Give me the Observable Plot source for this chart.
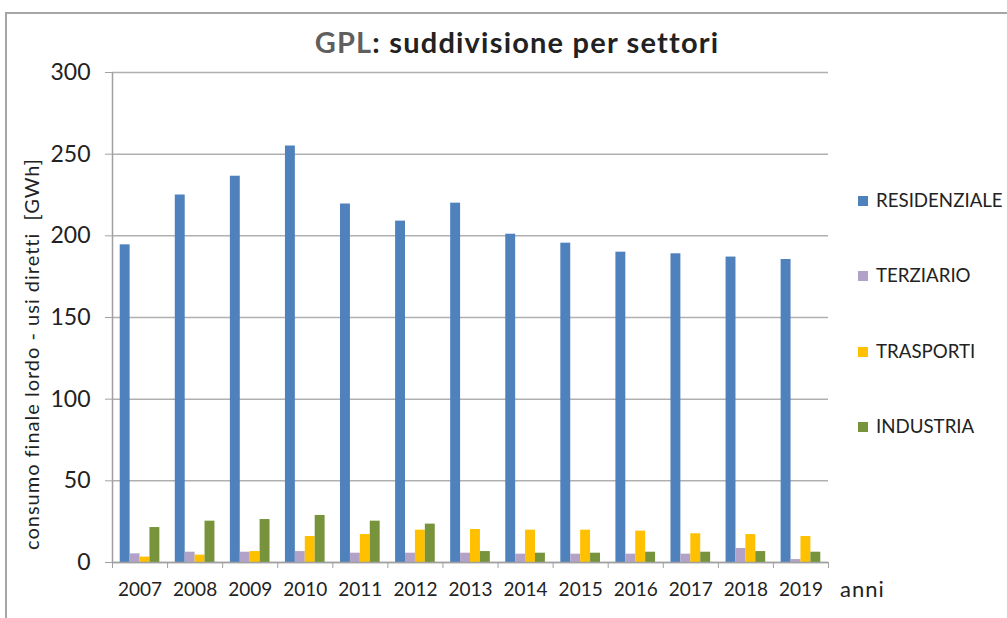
<!DOCTYPE html>
<html>
<head>
<meta charset="utf-8">
<script src="https://cdn.jsdelivr.net/npm/d3@7"></script>
<script src="https://cdn.jsdelivr.net/npm/@observablehq/plot@0.6"></script>
<style>
  html, body { margin: 0; padding: 0; background: #fff; }
  #wrap { position: relative; width: 1007px; height: 618px; overflow: hidden; font-family: Lato, "Open Sans", sans-serif; }
  #border { position: absolute; left: 5px; top: 12px; width: 1100px; height: 700px; border-top: 2px solid #a6a6a6; border-left: 2px solid #a6a6a6; }
  #title { position: absolute; left: 0; width: 1034px; top: 24px; text-align: center; font-size: 29px; letter-spacing: 1.2px; font-weight: bold; color: #222; }
  #title .gpl { color: #5f5f5f; }
  #ylabel { position: absolute; left: 31px; top: 354px; transform: translate(-50%, -50%) rotate(-90deg); white-space: pre; font-size: 20px; letter-spacing: 1px; color: #222; }
  #chart { position: absolute; left: 0; top: 40px; }
  #legend { position: absolute; left: 858px; top: 0; }
  .li { position: absolute; left: 0; white-space: nowrap; font-size: 18.7px; color: #222; transform: translateY(-50%); }
  .li span.sw { display: inline-block; width: 10px; height: 10px; margin-right: 8px; vertical-align: 1px; }
  #anni { position: absolute; left: 840px; top: 575px; font-size: 22px; letter-spacing: 1px; color: #222; }
</style>
</head>
<body>
<div id="wrap">
  <div id="border"></div>
  <div id="title"><span class="gpl">GPL</span>: suddivisione per settori</div>
  <div id="ylabel">consumo finale lordo - usi diretti  [GWh]</div>
  <div id="chart"></div>
  <div id="legend"></div>
  <div id="anni">anni</div>
</div>
<script>
const years = ["2007","2008","2009","2010","2011","2012","2013","2014","2015","2016","2017","2018","2019"];
const seriesNames = ["RESIDENZIALE", "TERZIARIO", "TRASPORTI", "INDUSTRIA"];
const seriesColors = ["#4f81bd", "#b3a2c7", "#ffc000", "#77933c"];
const residenziale = [194.5, 225, 236.5, 255, 219.5, 209, 220, 201, 195.5, 190, 189, 187, 185.5];
const terziario    = [5.3, 6.3, 6.3, 6.7, 5.7, 5.7, 5.7, 5.1, 5.1, 5.1, 5.1, 8.6, 1.8];
const trasporti    = [3.3, 4.5, 6.7, 15.9, 17.1, 19.8, 20.2, 19.8, 19.8, 19.2, 17.6, 17.1, 15.9];
const industria    = [21.4, 25.3, 26.3, 28.8, 25.3, 23.5, 6.7, 5.7, 5.7, 6.3, 6.3, 6.7, 6.3];
const yTicks = [0, 50, 100, 150, 200, 250, 300];

const seriesValues = [residenziale, terziario, trasporti, industria];
// grouped-bar layout within each year band (fractions of the band)
const groupOffset = 0.14, barWidth = 0.18;
const rows = [];
years.forEach((yr, i) => {
  seriesNames.forEach((s, j) => {
    rows.push({year: yr, series: s, value: seriesValues[j][i],
      x1: i + groupOffset + j * barWidth, x2: i + groupOffset + (j + 1) * barWidth});
  });
});

const chart = Plot.plot({
  width: 1007,
  height: 578,
  marginLeft: 112,
  marginRight: 179,
  marginTop: 32,
  marginBottom: 56,
  style: {fontFamily: "Lato, 'Open Sans', sans-serif", color: "#222", background: "transparent"},
  x: {type: "linear", domain: [0, years.length]},
  y: {domain: [0, 300]},
  color: {domain: seriesNames, range: seriesColors},
  marks: [
    Plot.gridY(yTicks, {stroke: "#b0b0b0", strokeOpacity: 1, strokeWidth: 1.5}),
    Plot.rectY(rows, {x1: "x1", x2: "x2", y: "value", fill: "series"}),
    Plot.ruleY([0], {stroke: "#a0a0a0", strokeWidth: 1.5}),
    Plot.ruleX([0], {stroke: "#a0a0a0", strokeWidth: 1.5}),
    Plot.axisY(yTicks, {tickSize: 7, tickPadding: 15, fontSize: 23, stroke: "#a0a0a0", label: null, tickFormat: d => d}),
    Plot.axisX(d3.range(years.length + 1), {tickSize: 6, stroke: "#a0a0a0", tickFormat: () => "", label: null}),
    Plot.axisX(years.map((_, i) => i + 0.5), {tickSize: 0, tickPadding: 20, fontSize: 19, tickFormat: d => years[Math.floor(d)], label: null})
  ]
});
document.getElementById("chart").appendChild(chart);

const legendY = [200, 275, 351, 426];
const legend = document.getElementById("legend");
seriesNames.forEach((s, j) => {
  const div = document.createElement("div");
  div.className = "li";
  div.style.top = legendY[j] + "px";
  div.innerHTML = `<span class="sw" style="background:${seriesColors[j]}"></span>${s}`;
  legend.appendChild(div);
});
</script>
</body>
</html>
